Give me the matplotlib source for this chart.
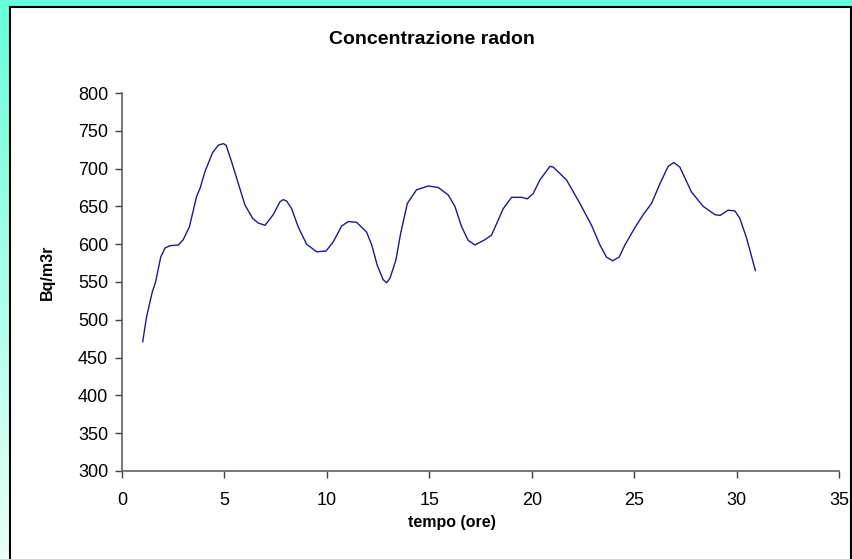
import numpy as np
import matplotlib
matplotlib.use("Agg")
import matplotlib.pyplot as plt
from matplotlib.patches import Rectangle

# radon readings, time in hours
ore = [1.01, 1.2, 1.48, 1.64, 1.89, 2.1, 2.34, 2.75, 2.99, 3.29, 3.64, 3.81, 4.05,
       4.42, 4.7, 4.95, 5.08, 5.35, 5.68, 6.0, 6.38, 6.65, 6.98, 7.38, 7.71, 7.87,
       8.04, 8.28, 8.6, 9.01, 9.5, 9.96, 10.31, 10.72, 11.05, 11.45, 11.94, 12.19,
       12.46, 12.75, 12.92, 13.08, 13.37, 13.6, 13.93, 14.38, 14.95, 15.44, 15.93,
       16.25, 16.58, 16.9, 17.23, 17.72, 18.04, 18.61, 19.02, 19.51, 19.78, 20.07,
       20.4, 20.89, 21.05, 21.7, 22.35, 22.92, 23.33, 23.65, 23.95, 24.27, 24.55,
       25.04, 25.44, 25.85, 26.26, 26.66, 26.94, 27.23, 27.8, 28.37, 28.95, 29.19,
       29.59, 29.92, 30.16, 30.49, 30.92]
bq = [471, 504, 537, 550, 583, 595, 598, 599, 606, 623, 663, 674, 696,
      721, 731, 733, 731, 709, 680, 652, 634, 628, 625, 639, 656, 659,
      657, 647, 623, 600, 590, 591, 603, 624, 630, 629, 616, 599,
      572, 553, 549, 555, 579, 614, 654, 672, 677, 675, 665,
      650, 623, 605, 599, 606, 612, 647, 662, 662, 660, 667,
      685, 703, 702, 685, 654, 625, 599, 583, 578, 583, 599,
      622, 639, 654, 680, 703, 708, 702, 669, 650, 639, 638,
      645, 644, 634, 608, 565]

xticks = [0, 5, 10, 15, 20, 25, 30, 35]
yticks = [300, 350, 400, 450, 500, 550, 600, 650, 700, 750, 800]

plt.rcParams['font.family'] = ['Liberation Sans', 'DejaVu Sans']

fig = plt.figure(figsize=(8.53, 5.59), dpi=100)

# background gradient
bg = fig.add_axes([0, 0, 1, 1], zorder=-2)
grad = np.linspace(0, 1, 256).reshape(-1, 1)
top = np.array([102, 255, 217]) / 255
bot = np.array([235, 255, 249]) / 255
img = top + (bot - top) * grad[:, :, None]
bg.imshow(img, aspect='auto', extent=[0, 1, 0, 1])
bg.set_axis_off()

# white chart area
fig.patches.append(Rectangle((10.5 / 853, -0.01), (851 - 10.5) / 853, 1 - 7 / 559 + 0.01,
                             transform=fig.transFigure, facecolor='white',
                             edgecolor='black', linewidth=1.5, zorder=-1))

ax = fig.add_axes([122 / 853, 1 - 471 / 559, (839 - 122) / 853, (471 - 93) / 559])
ax.set_facecolor('none')
ax.plot(ore, bq, color='#1a1a8c', linewidth=1.0)

ax.set_xlim(0, 35)
ax.set_ylim(300, 800)
ax.set_xticks(xticks)
ax.set_yticks(yticks)
ax.tick_params(labelsize=13, length=5, width=1, color='#404040')
ax.tick_params(axis='x', pad=10)
ax.tick_params(axis='y', pad=5)
for s in ['top', 'right']:
    ax.spines[s].set_visible(False)
for s in ['left', 'bottom']:
    ax.spines[s].set_color('#606060')
    ax.spines[s].set_linewidth(1.2)

fig.text(432 / 853, 1 - 40 / 559, 'Concentrazione radon', ha='center', va='center',
         fontsize=14, fontweight='bold')
fig.text(452 / 853, 1 - 522 / 559, 'tempo (ore)', ha='center', va='center',
         fontsize=11.5, fontweight='bold')
fig.text(47 / 853, 1 - 272 / 559, 'Bq/m3r', ha='center', va='center',
         fontsize=11.5, fontweight='bold', rotation=90)

fig.savefig('out.png', dpi=100)
